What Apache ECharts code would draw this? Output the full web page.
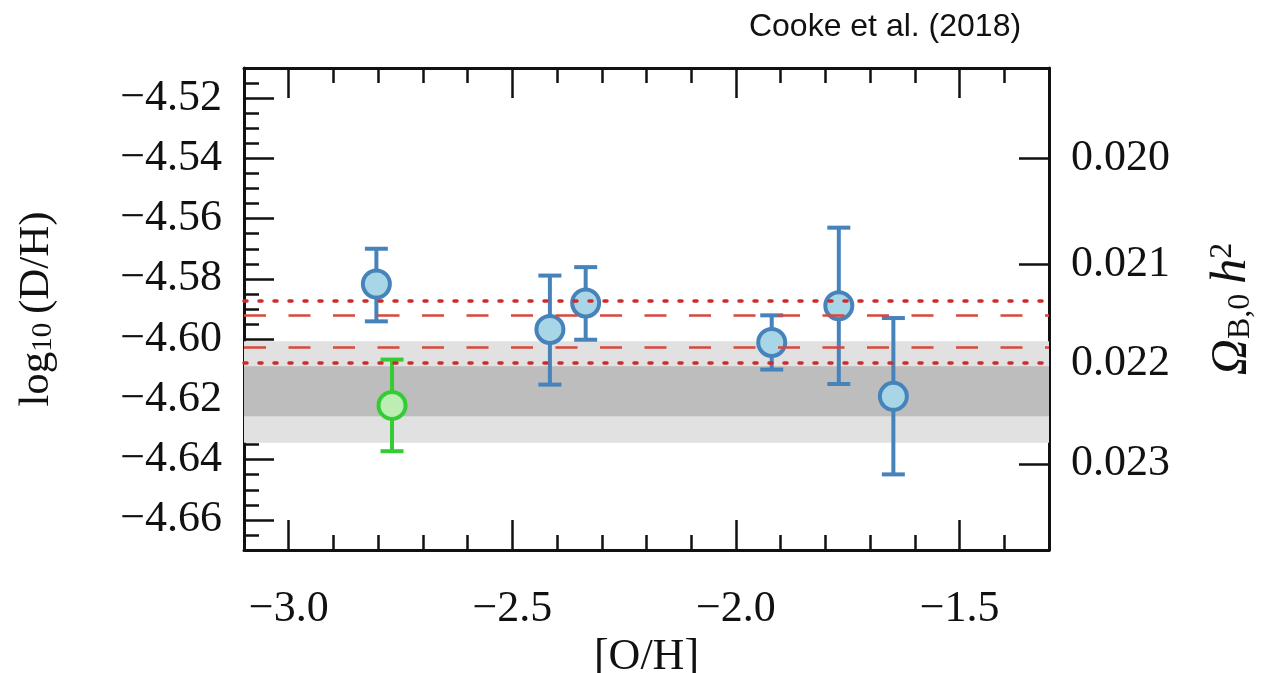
<!DOCTYPE html>
<html>
<head>
<meta charset="utf-8">
<title>Cooke et al. (2018)</title>
<script src="https://cdn.jsdelivr.net/npm/echarts@6/dist/echarts.min.js"></script>
<style>
    html, body { margin: 0; padding: 0; background: #fff; }
    #main { width: 1265px; height: 673px; }
</style>
</head>
<body>
<div id="main"></div>
<script>
// blue points: [O/H], log10(D/H), lower and upper error ends
var blueOH = [-2.804, -2.416, -2.336, -1.920, -1.770, -1.648];
var blueDH = [-4.5817, -4.5968, -4.5880, -4.6011, -4.5889, -4.6190];
var blueLo = [-4.5941, -4.6151, -4.6002, -4.6101, -4.6149, -4.6449];
var blueHi = [-4.5700, -4.5789, -4.5761, -4.5921, -4.5630, -4.5930];

// green point
var greenOH = [-2.769];
var greenDH = [-4.6220];
var greenLo = [-4.6372];
var greenHi = [-4.6068];

// grey bands and red reference lines (log10 D/H)
var lightBand = [-4.6007, -4.6344];
var darkBand = [-4.6090, -4.6256];
var dottedLines = [-4.5871, -4.6077];
var dashedLines = [-4.5922, -4.6027];

// tick values
var xMajor = [-3.0, -2.5, -2.0, -1.5];
var yMajor = [-4.66, -4.64, -4.62, -4.60, -4.58, -4.56, -4.54, -4.52];
var omegaLabels = ['0.020', '0.021', '0.022', '0.023'];
var omegaPos = [-4.5399, -4.5753, -4.6082, -4.6414];

var serif = 'Liberation Serif';

function minus(v, d) {
    return v.toFixed(d).replace('-', '\u2212');
}

function pack(xs, lo, hi) {
    var out = [];
    for (var i = 0; i < xs.length; i++) {
        out.push([xs[i], lo[i], hi[i]]);
    }
    return out;
}

function zip(xs, ys) {
    var out = [];
    for (var i = 0; i < xs.length; i++) {
        out.push([xs[i], ys[i]]);
    }
    return out;
}

function renderError(params, api) {
    var x = api.value(0);
    var lo = api.coord([x, api.value(1)]);
    var hi = api.coord([x, api.value(2)]);
    var half = 11.5;
    var style = { stroke: api.visual('color'), lineWidth: 4 };
    return {
        type: 'group',
        children: [
            { type: 'line', shape: { x1: lo[0], y1: lo[1], x2: hi[0], y2: hi[1] }, style: style },
            { type: 'line', shape: { x1: lo[0] - half, y1: lo[1], x2: lo[0] + half, y2: lo[1] }, style: style },
            { type: 'line', shape: { x1: hi[0] - half, y1: hi[1], x2: hi[0] + half, y2: hi[1] }, style: style }
        ]
    };
}

var tickStyle = { color: '#111', width: 2.5 };
var boxLine = { show: true, onZero: false, lineStyle: { color: '#111', width: 3 } };
var dotted = { color: '#cf2a2a', width: 3.5, type: [3, 12], cap: 'round' };
var dashed = { color: '#d9473f', width: 2.5, type: [22, 22.5] };

var chart = echarts.init(document.getElementById('main'));

var option = {
    animation: false,
    title: {
        text: 'Cooke et al. (2018)',
        left: 880,
        top: 6,
        textAlign: 'center',
        textStyle: { fontFamily: 'Liberation Sans', fontSize: 32, fontWeight: 'normal', color: '#111' }
    },
    grid: { left: 244, right: 216, top: 68, bottom: 123, outerBoundsMode: 'none' },
    xAxis: [
        {
            type: 'value', position: 'bottom', min: -3.1, max: -1.3,
            axisLine: boxLine,
            axisTick: { inside: true, length: 30, lineStyle: tickStyle, customValues: xMajor },
            axisLabel: {
                customValues: xMajor, margin: 37,
                fontFamily: serif, fontSize: 44, color: '#111',
                formatter: function (v) { return minus(v, 1); }
            },
            splitLine: { show: false },
            name: '[O/H]', nameLocation: 'middle', nameGap: 84,
            nameTextStyle: { fontFamily: serif, fontSize: 44, color: '#111' }
        },
        {
            type: 'value', position: 'bottom', min: -3.1, max: -1.3, interval: 0.1,
            axisLine: { show: false },
            axisTick: { inside: true, length: 15, lineStyle: tickStyle },
            axisLabel: { show: false },
            splitLine: { show: false }
        },
        {
            type: 'value', position: 'top', min: -3.1, max: -1.3,
            axisLine: boxLine,
            axisTick: { inside: true, length: 30, lineStyle: tickStyle, customValues: xMajor },
            axisLabel: { show: false, customValues: xMajor },
            splitLine: { show: false }
        },
        {
            type: 'value', position: 'top', min: -3.1, max: -1.3, interval: 0.1,
            axisLine: { show: false },
            axisTick: { inside: true, length: 15, lineStyle: tickStyle },
            axisLabel: { show: false },
            splitLine: { show: false }
        }
    ],
    yAxis: [
        {
            type: 'value', position: 'left', min: -4.67, max: -4.51,
            axisLine: boxLine,
            axisTick: { inside: true, length: 30, lineStyle: tickStyle, customValues: yMajor },
            axisLabel: {
                customValues: yMajor, margin: 22,
                fontFamily: serif, fontSize: 44, color: '#111',
                formatter: function (v) { return minus(v, 2); }
            },
            splitLine: { show: false },
            name: '{m|log}{s|10}{m|\u2009(D/H)}',
            nameLocation: 'middle', nameRotate: 90, nameGap: 186,
            nameTextStyle: {
                rich: {
                    m: { fontFamily: serif, fontSize: 43, color: '#111' },
                    s: { fontFamily: serif, fontSize: 29, color: '#111', verticalAlign: 'bottom', lineHeight: 18 }
                }
            }
        },
        {
            type: 'value', position: 'left', min: -4.67, max: -4.51, interval: 0.005,
            axisLine: { show: false },
            axisTick: { inside: true, length: 15, lineStyle: tickStyle },
            axisLabel: { show: false },
            splitLine: { show: false }
        },
        {
            type: 'value', position: 'right', min: -4.67, max: -4.51,
            axisLine: boxLine,
            axisTick: { inside: true, length: 30, lineStyle: tickStyle, customValues: omegaPos },
            axisLabel: {
                customValues: omegaPos, margin: 22,
                fontFamily: serif, fontSize: 44, color: '#111',
                formatter: function (v) {
                    for (var i = 0; i < omegaPos.length; i++) {
                        if (Math.abs(omegaPos[i] - v) < 1e-6) return omegaLabels[i];
                    }
                    return '';
                }
            },
            splitLine: { show: false },
            name: '{i|\u03A9}{s|B,0}{i|\u2009h}{p|2}',
            nameLocation: 'middle', nameRotate: 90, nameGap: 158,
            nameTextStyle: {
                rich: {
                    i: { fontFamily: serif, fontStyle: 'italic', fontSize: 50, color: '#111' },
                    s: { fontFamily: serif, fontSize: 32, color: '#111', verticalAlign: 'bottom', lineHeight: 20 },
                    p: { fontFamily: serif, fontSize: 32, color: '#111', verticalAlign: 'top', lineHeight: 18 }
                }
            }
        }
    ],
    series: [
        {
            name: 'bands',
            type: 'line',
            data: [],
            z: 1,
            silent: true,
            markArea: {
                silent: true,
                data: [
                    [{ yAxis: lightBand[0], itemStyle: { color: '#e1e1e1' } }, { yAxis: lightBand[1] }],
                    [{ yAxis: darkBand[0], itemStyle: { color: '#bdbdbd' } }, { yAxis: darkBand[1] }]
                ]
            },
            markLine: {
                silent: true,
                precision: 4,
                symbol: ['none', 'none'],
                label: { show: false },
                data: [
                    { yAxis: dottedLines[0], lineStyle: dotted },
                    { yAxis: dottedLines[1], lineStyle: dotted },
                    { yAxis: dashedLines[0], lineStyle: dashed },
                    { yAxis: dashedLines[1], lineStyle: dashed }
                ]
            }
        },
        {
            name: 'blue err',
            type: 'custom',
            renderItem: renderError,
            itemStyle: { color: '#4783bb' },
            encode: { x: 0, y: [1, 2] },
            data: pack(blueOH, blueLo, blueHi),
            z: 3
        },
        {
            name: 'green err',
            type: 'custom',
            renderItem: renderError,
            itemStyle: { color: '#34cc34' },
            encode: { x: 0, y: [1, 2] },
            data: pack(greenOH, greenLo, greenHi),
            z: 3
        },
        {
            name: 'blue',
            type: 'scatter',
            symbol: 'circle',
            symbolSize: 27,
            itemStyle: { color: '#a8d6e6', borderColor: '#4783bb', borderWidth: 4, opacity: 1 },
            data: zip(blueOH, blueDH),
            z: 4
        },
        {
            name: 'green',
            type: 'scatter',
            symbol: 'circle',
            symbolSize: 27,
            itemStyle: { color: '#bcedb3', borderColor: '#34cc34', borderWidth: 4, opacity: 1 },
            data: zip(greenOH, greenDH),
            z: 4
        }
    ]
};

chart.setOption(option);
</script>
</body>
</html>
